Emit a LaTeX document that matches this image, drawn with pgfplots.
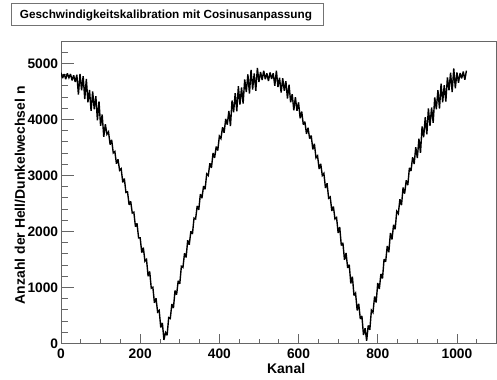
\documentclass[border=0pt]{standalone}
\usepackage{fontspec}
\setmainfont{Liberation Sans}
\usepackage{pgfplots}
\pgfplotsset{compat=1.18}
\begin{document}
\begin{tikzpicture}[x=1bp,y=1bp]
\useasboundingbox (0,0) rectangle (497,379);
\draw[black!55, line width=1bp, fill=white] (11,353.5) rectangle (323,375);
\node[font=\fontsize{11.8}{13}\selectfont\bfseries] at (166,364) {Geschwindigkeitskalibration mit Cosinusanpassung};
\begin{axis}[
  at={(61bp,35.7bp)}, anchor=south west, scale only axis,
  width=435.5bp, height=302.3bp,
  xmin=0, xmax=1100, ymin=0, ymax=5400,
  axis line style={black!60, line width=0.9bp},
  tick pos=left, tick align=inside,
  every tick/.style={black!60, line width=0.8bp},
  major tick length=9.5bp, minor tick length=4.7bp,
  ytick style={/pgfplots/major tick length=13bp,/pgfplots/minor tick length=6.5bp},
  xtick={0,200,400,600,800,1000},
  minor xtick={50,100,150,250,300,350,450,500,550,650,700,750,850,900,950,1050,1100},
  ytick={0,1000,2000,3000,4000,5000},
  minor ytick={200,400,600,800,1200,1400,1600,1800,2200,2400,2600,2800,3200,3400,3600,3800,4200,4400,4600,4800,5200,5400},
  scaled ticks=false,
  /pgf/number format/1000 sep={},
  /pgf/number format/assume math mode=true,
  ticklabel style={font=\fontsize{13.8}{16}\selectfont\bfseries},
  xticklabel style={inner sep=0pt, anchor=north, yshift=-5bp},
  yticklabel style={inner sep=0pt, anchor=east, xshift=-2.7bp},
  xlabel={Kanal},
  ylabel={Anzahl der Hell/Dunkelwechsel n},
  label style={font=\fontsize{14}{16}\selectfont\bfseries},
  xlabel style={at={(axis description cs:0.517,-0.085)}, anchor=center},
  ylabel style={at={(axis description cs:-0.0943,0.49)}, anchor=center},
]
\addplot[black, line width=1.4bp, mark=none, line join=miter, miter limit=3] coordinates {
(0,4834)(4,4737)(8,4810)(12,4719)(16,4822)(20,4743)(24,4811)(28,4696)(32,4788)(36,4668)
(40,4798)(44,4444)(48,4813)(52,4519)(56,4773)(60,4363)(64,4721)(68,4306)(72,4527)(76,4151)
(80,4498)(84,4182)(88,4414)(92,3984)(96,4321)(100,3886)(104,4086)(108,3689)
(112,3913)(116,3734)(120,3778)(124,3549)(128,3634)(132,3401)(136,3428)(140,3209)(144,3286)(148,3090)(152,3118)(156,2874)(160,2943)(164,2695)(168,2707)(172,2474)(176,2537)(180,2327)(184,2342)(188,2085)(192,2142)(196,1883)(200,1884)
(204,1620)(208,1709)(212,1466)(216,1498)(220,1199)(224,1284)(228,984)(232,1002)(236,723)(240,806)(244,558)(248,586)(252,283)(256,364)(260,61)(264,193)(268,144)(272,459)(276,443)(280,701)(284,630)(288,943)(292,870)(296,1116)(300,1064)(304,1375)(308,1355)(312,1609)(316,1533)(320,1840)(324,1762)(328,2001)
(332,1952)(336,2237)(340,2221)(344,2453)(348,2385)(352,2664)(356,2592)(360,2808)(364,2753)(368,3026)(372,2997)(376,3216)(380,3134)(384,3399)(388,3313)(392,3514)(396,3444)(400,3701)(404,3657)(408,3860)(412,3761)(416,4009)(420,3906)
(424,4150)(428,3881)(432,4336)(436,4128)(440,4468)(444,4146)(448,4591)(452,4263)(456,4570)(460,4281)(464,4715)(468,4487)(472,4805)(476,4461)(480,4884)(484,4534)(488,4820)(492,4508)(496,4920)(500,4669)
(504,4848)(508,4702)(512,4869)(516,4717)(520,4824)(524,4684)(528,4839)(532,4721)(536,4825)
(540,4600)(544,4870)(548,4576)(552,4744)(556,4477)(560,4735)(564,4511)(568,4683)(572,4373)(576,4620)(580,4305)(584,4451)(588,4162)(592,4398)(596,4152)(600,4304)
(604,4021)(608,4140)(612,3906)(616,3959)(620,3741)(624,3850)(628,3657)(632,3711)(636,3464)(640,3564)(644,3313)(648,3349)(652,3114)(656,3206)(660,2997)(664,3036)(668,2773)(672,2858)(676,2592)(680,2614)(684,2365)(688,2443)(692,2221)(696,2247)(700,1972)
(704,2076)(708,1748)(712,1795)(716,1491)(720,1614)(724,1347)(728,1404)(732,1070)(736,1191)(740,856)(744,898)(748,588)(752,706)(756,435)(760,488)(764,150)(768,268)(772,47)(776,319)(780,241)(784,591)(788,550)(792,835)(796,729)(800,1077)(804,970)(808,1239)(812,1157)(816,1503)(820,1458)(824,1738)(828,1626)(832,1969)(836,1855)(840,2117)
(844,2037)(848,2357)(852,2315)(856,2573)(860,2468)(864,2782)(868,2674)(872,2913)(876,2826)(880,3133)(884,3078)(888,3322)(892,3203)(896,3503)
(900,3310)(904,3654)(908,3401)(912,3873)(916,3682)(920,4039)(924,3733)(928,4196)(932,3886)(936,4211)(940,3940)(944,4392)(948,4182)(952,4520)(956,4195)(960,4637)(964,4306)(968,4611)(972,4319)(976,4751)(980,4519)(984,4835)(988,4488)(992,4908)(996,4556)(1000,4838)
(1004,4654)(1008,4829)(1012,4731)(1016,4855)(1020,4707)(1024,4870)
};
\end{axis}
\end{tikzpicture}
\end{document}
